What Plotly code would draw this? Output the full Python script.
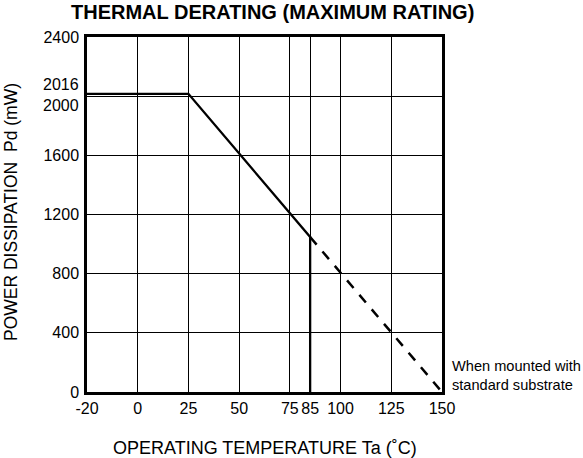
import plotly.graph_objects as go

# ---- data ----
temp_solid = [-20, 25, 85, 85]          # Ta (°C)
pd_solid = [2016, 2016, 1048, 0]        # Pd (mW)
temp_dash = [85, 150]
pd_dash = [1048, 0]

x_tick_vals = [-20, 0, 25, 50, 75, 85, 100, 125, 150]
x_tick_text = ["-20", "0", "25", "50", "75", "85", "100", "125", "150"]
y_tick_vals = [0, 400, 800, 1200, 1600, 2000, 2400]
y_tick_text = ["0", "400", "800", "1200", "1600", "", "2400"]

title = "THERMAL DERATING (MAXIMUM RATING)"
x_title = "OPERATING TEMPERATURE Ta (˚C)"
y_title = "POWER DISSIPATION  Pd (mW)"
note = "When mounted with<br>standard substrate"


# the chart's x scale is stretched below 0 °C (-20..0 spans one 25° grid cell)
def xscale(v):
    return [t * 25 / 20 if t < 0 else t for t in v]


FONT = "Liberation Sans, Arial, sans-serif"
L, R, T, B = 87, 141, 37, 66
W, H = 583, 458
PW, PH = W - L - R, H - T - B


def px(xp):
    return (xp - L) / PW


def py(yp):
    return (H - B - yp) / PH


fig = go.Figure()
fig.add_trace(go.Scatter(x=xscale(temp_solid), y=pd_solid, mode="lines",
                         line=dict(color="black", width=2.3), hoverinfo="skip"))
fig.add_trace(go.Scatter(x=xscale(temp_dash), y=pd_dash, mode="lines",
                         line=dict(color="black", width=2.5, dash="10px,9px"),
                         hoverinfo="skip"))

fig.update_layout(
    width=W, height=H,
    margin=dict(l=L, r=R, t=T, b=B),
    paper_bgcolor="white", plot_bgcolor="white",
    showlegend=False,
    font=dict(family=FONT, color="black", size=16),
)
fig.update_xaxes(
    range=xscale([-20, 150]), tickvals=xscale(x_tick_vals), ticktext=x_tick_text,
    showgrid=True, gridcolor="black", gridwidth=1, zeroline=False,
    showline=True, linecolor="black", linewidth=2.5, mirror=True,
    ticks="", ticklabelstandoff=0, tickfont=dict(size=16, family=FONT),
)
fig.update_yaxes(
    range=[0, 2400], tickvals=y_tick_vals, ticktext=y_tick_text,
    showgrid=True, gridcolor="black", gridwidth=1, zeroline=False,
    showline=True, linecolor="black", linewidth=2.5, mirror=True,
    ticks="", ticklabelstandoff=2, tickfont=dict(size=16, family=FONT),
)

ann = [
    dict(text=f"<b>{title}</b>", x=px(272), y=py(12), xref="paper", yref="paper",
         xanchor="center", yanchor="middle", showarrow=False,
         font=dict(size=20, family=FONT)),
    dict(text=x_title, x=px(265), y=py(448), xref="paper", yref="paper",
         xanchor="center", yanchor="middle", showarrow=False,
         font=dict(size=18, family=FONT)),
    dict(text=y_title, x=px(10.5), y=py(212.5), xref="paper", yref="paper",
         xanchor="center", yanchor="middle", showarrow=False, textangle=-90,
         font=dict(size=17.5, family=FONT)),
    dict(text=note, x=px(449.5), y=py(375), xref="paper", yref="paper",
         xanchor="left", yanchor="middle", align="left", showarrow=False,
         font=dict(size=14.6, family=FONT)),
    dict(text="2016", x=px(81), y=2016, xref="paper", yref="y", yshift=9,
         xanchor="right", yanchor="middle", showarrow=False,
         font=dict(size=16, family=FONT)),
    dict(text="2000", x=px(81), y=2000, xref="paper", yref="y", yshift=-9,
         xanchor="right", yanchor="middle", showarrow=False,
         font=dict(size=16, family=FONT)),
]
fig.update_layout(annotations=ann)

fig.write_html("out.html", config={"displayModeBar": False},
               post_script="document.body.style.margin='0';document.body.style.padding='0';")
